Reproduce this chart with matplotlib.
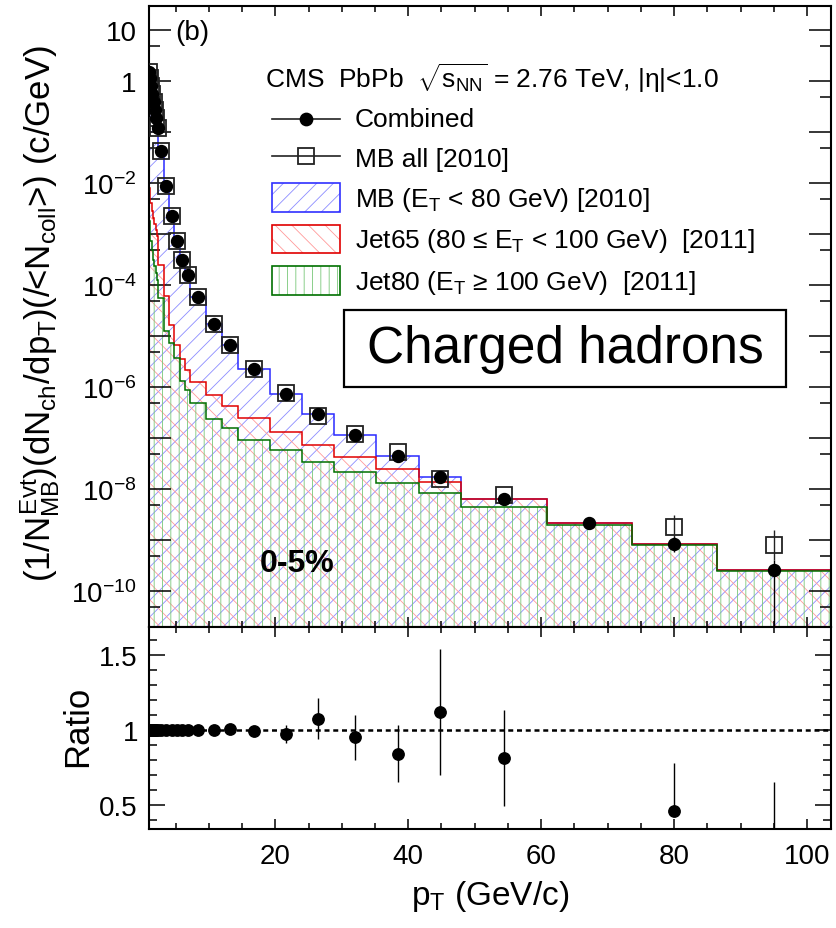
import numpy as np
import matplotlib
matplotlib.use('Agg')
import matplotlib.pyplot as plt
from matplotlib.ticker import FixedLocator, MultipleLocator, FuncFormatter, FixedFormatter, NullFormatter
from matplotlib.patches import Rectangle
from matplotlib.lines import Line2D

plt.rcParams['font.family'] = ['Liberation Sans', 'DejaVu Sans']
plt.rcParams['mathtext.fontset'] = 'custom'
plt.rcParams['mathtext.rm'] = 'Liberation Sans'
plt.rcParams['mathtext.it'] = 'Liberation Sans'
plt.rcParams['mathtext.bf'] = 'Liberation Sans:bold'
plt.rcParams['mathtext.sf'] = 'Liberation Sans'
plt.rcParams['hatch.linewidth'] = 0.6

# ---------------- data ----------------
bin_edges = [1.0, 1.1, 1.2, 1.4, 1.6, 1.8, 2.0, 2.2, 2.4, 3.2, 4.0, 4.8, 5.6, 6.4, 7.2,
             9.6, 12.0, 14.4, 19.2, 24.0, 28.8, 35.2, 41.6, 48.0, 60.8, 73.6, 86.4, 103.6]
pt = [1.05, 1.15, 1.3, 1.5, 1.7, 1.9, 2.1, 2.3, 2.8, 3.6, 4.4, 5.2, 6.0, 6.8, 8.4,
      10.8, 13.2, 16.8, 21.6, 26.4, 32.0, 38.4, 44.8, 54.4, 67.2, 80.0, 95.0]

combined = [1.50, 1.15, 0.80, 0.556, 0.388, 0.27, 0.188, 0.12, 0.0424, 9.0e-3, 2.33e-3,
            7.5e-4, 3.13e-4, 1.59e-4, 6.0e-5, 1.74e-5, 6.75e-6, 2.31e-6, 7.5e-7, 2.96e-7,
            1.17e-7, 4.58e-8, 1.77e-8, 6.4e-9, 2.22e-9, 8.35e-10, 2.58e-10]
combined_err_lo = [0]*25 + [2.45e-10, 2.50e-10]
combined_err_hi = [0]*25 + [3.5e-10, 1.5e-10]

mb_all = [1.50, 1.15, 0.80, 0.556, 0.388, 0.27, 0.188, 0.12, 0.0424, 9.0e-3, 2.33e-3,
          7.5e-4, 3.13e-4, 1.59e-4, 6.0e-5, 1.74e-5, 6.7e-6, 2.33e-6, 7.7e-7, 2.76e-7,
          1.23e-7, 5.45e-8, 1.58e-8, 7.85e-9, np.nan, 1.83e-9, 8.1e-10]
mb_all_err_lo = [0]*25 + [8e-10, 4e-10]
mb_all_err_hi = [0]*25 + [1.3e-9, 7.7e-10]

# stacked contributions (cumulative levels): total = combined
jet65_level = [8.0e-3, 5.8e-3, 4.06e-3, 2.83e-3, 2.06e-3, 1.57e-3, 1.20e-3, 9.1e-4, 2.5e-4,
               6.1e-5, 1.67e-5, 6.75e-6, 3.54e-6, 2.18e-6, 1.29e-6, 7.06e-7, 4.24e-7,
               2.47e-7, 1.35e-7, 7.4e-8, 4.38e-8, 2.52e-8, 1.42e-8, 6.45e-9, 2.22e-9,
               8.35e-10, 2.58e-10]
jet80_level = [1.80e-3, 1.20e-3, 7.3e-4, 4.85e-4, 3.1e-4, 2.36e-4, 1.72e-4, 1.25e-4, 5.6e-5,
               1.25e-5, 7.3e-6, 3.7e-6, 1.31e-6, 8.7e-7, 4.85e-7, 2.36e-7, 1.57e-7, 9.3e-8,
               5.9e-8, 3.5e-8, 2.22e-8, 1.34e-8, 8.6e-9, 4.6e-9, 2.0e-9, 8.0e-10, 2.5e-10]

ratio_pt = [1.05, 1.15, 1.3, 1.5, 1.7, 1.9, 2.1, 2.3, 2.8, 3.6, 4.4, 5.2, 6.0, 6.8, 8.4,
            10.8, 13.2, 16.8, 21.6, 26.4, 32.0, 38.4, 44.8, 54.4, 80.0, 95.0]
ratio = [1.0]*14 + [1.0, 1.0, 1.008, 0.993, 0.973, 1.074, 0.95, 0.84, 1.12, 0.814, 0.456, 0.25]
ratio_err_lo = [0]*14 + [0.005, 0.008, 0.01, 0.02, 0.06, 0.135, 0.15, 0.19, 0.42, 0.32, 0.03, 0.30]
ratio_err_hi = [0]*14 + [0.005, 0.008, 0.01, 0.02, 0.06, 0.135, 0.15, 0.19, 0.42, 0.32, 0.32, 0.40]

legend_labels = ['Combined', 'MB all [2010]',
                 r'MB (E$_{\rm T}$ < 80 GeV) [2010]',
                 r'Jet65 (80 ≤ E$_{\rm T}$ < 100 GeV)  [2011]',
                 r'Jet80 (E$_{\rm T}$ ≥ 100 GeV)  [2011]']

# ---------------- figure ----------------
W, H = 836, 929
fig = plt.figure(figsize=(W/100, H/100), dpi=100)
L, R = 149/W, 831/W
ax = fig.add_axes([L, 1-628/H, R-L, 621/H])
axr = fig.add_axes([L, 1-830/H, R-L, 202/H])

ymin, ymax = 2e-11, 30
xmin, xmax = 1.0, 103.6

blue_h, red_h, green_h = '#8c8cff', '#ff9a9a', '#78c878'
ax.stairs(combined, bin_edges, baseline=ymin, fill=True, facecolor='none',
          edgecolor=blue_h, hatch='//', lw=0, zorder=1)
ax.stairs(jet65_level, bin_edges, baseline=ymin, fill=True, facecolor='none',
          edgecolor=red_h, hatch='\\\\', lw=0, zorder=1.1)
ax.stairs(jet80_level, bin_edges, baseline=ymin, fill=True, facecolor='none',
          edgecolor=green_h, hatch='||', lw=0, zorder=1.2)
ax.stairs(combined, bin_edges, baseline=None, color='#2a2aff', lw=1.1, zorder=2)
ax.stairs(jet65_level, bin_edges, baseline=None, color='#e00000', lw=1.1, zorder=2.1)
ax.stairs(jet80_level, bin_edges, baseline=None, color='#007000', lw=1.1, zorder=2.2)

ax.errorbar(pt, mb_all, yerr=[mb_all_err_lo, mb_all_err_hi], fmt='s', ms=11.5,
            mfc='none', mec='#222222', mew=1.3, ecolor='#222222', elinewidth=1.0,
            capsize=0, zorder=4)
ax.errorbar(pt, combined, yerr=[combined_err_lo, combined_err_hi], fmt='o', ms=8.6,
            color='black', elinewidth=1.0, capsize=0, zorder=5)

ax.set_yscale('log')
ax.set_xlim(xmin, xmax)
ax.set_ylim(ymin, ymax)

def yfmt(v, pos):
    e = int(round(np.log10(v)))
    if e == 1:
        return '10'
    if e == 0:
        return '1'
    if e % 2 == 0:
        return r'$10^{%d}$' % e
    return ''

ax.yaxis.set_major_locator(FixedLocator([10.0**k for k in range(-11, 2)]))
ax.yaxis.set_minor_locator(FixedLocator([5*10.0**k for k in range(-12, 1)]))
ax.yaxis.set_major_formatter(FuncFormatter(yfmt))
ax.yaxis.set_minor_formatter(NullFormatter())
ax.xaxis.set_major_locator(MultipleLocator(20))
ax.xaxis.set_minor_locator(MultipleLocator(5))
ax.tick_params(axis='y', which='major', direction='in', length=15.8, width=1.1,
               left=True, right=True, labelsize=20, pad=9)
ax.tick_params(axis='y', which='minor', direction='in', length=8, width=1.1,
               left=True, right=True)
ax.tick_params(axis='x', which='major', direction='in', length=7, width=1.1,
               top=True, bottom=True, labelbottom=False)
ax.tick_params(axis='x', which='minor', direction='in', length=4.3, width=1.1,
               top=True, bottom=True)

# ---------------- ratio panel ----------------
axr.axhline(1.0, color='black', lw=1.8, ls=(0, (2, 1.5)), zorder=1)
axr.errorbar(ratio_pt, ratio, yerr=[ratio_err_lo, ratio_err_hi], fmt='o', ms=8.2,
             color='black', elinewidth=1.0, capsize=0, zorder=3, clip_on=True)
axr.set_xlim(xmin, xmax)
axr.set_ylim(0.338, 1.685)
axr.yaxis.set_major_locator(FixedLocator([0.5, 1.0, 1.5]))
axr.yaxis.set_major_formatter(FixedFormatter(['0.5', '1', '1.5']))
axr.yaxis.set_minor_locator(MultipleLocator(0.1))
axr.xaxis.set_major_locator(MultipleLocator(20))
axr.xaxis.set_minor_locator(MultipleLocator(5))
axr.tick_params(axis='y', which='major', direction='in', length=11.5, width=1.1,
                left=True, right=True, labelsize=20, pad=8)
axr.tick_params(axis='y', which='minor', direction='in', length=5.8, width=1.1,
                left=True, right=True)
axr.tick_params(axis='x', which='major', direction='in', length=7, width=1.1,
                top=True, bottom=True, labelsize=20, pad=10)
axr.tick_params(axis='x', which='minor', direction='in', length=4.3, width=1.1,
                top=True, bottom=True)

for a in (ax, axr):
    for s in a.spines.values():
        s.set_linewidth(1.5)

# ---------------- labels ----------------
fig.text(40/W, 1-314/H,
         r'$(1/N^{\rm Evt}_{\rm MB})(dN_{\rm ch}/dp_{\rm T})$(/<N$_{\rm coll}$>) (c/GeV)',
         rotation=90, ha='center', va='center', fontsize=25)
fig.text(78/W, 1-726/H, 'Ratio', rotation=90, ha='center', va='center', fontsize=25)
fig.text(490/W, 1-897/H, r'p$_{\rm T}$ (GeV/c)', ha='center', va='center', fontsize=24)

def ax_xy(px, py):
    return ((px-149)/682, (628-py)/621)

ax.text(*ax_xy(175, 33), '(b)', ha='left', va='center', fontsize=20, transform=ax.transAxes)
ax.text(*ax_xy(260, 564), '0-5%', ha='left', va='center', fontsize=23, fontweight='bold',
        transform=ax.transAxes)

bx0, by0 = ax_xy(344, 388)
bx1, by1 = ax_xy(786, 311)
ax.add_patch(Rectangle((bx0, by0), bx1-bx0, by1-by0, transform=ax.transAxes,
                       facecolor='white', edgecolor='black', lw=1.6, zorder=6))
ax.text((bx0+bx1)/2, (by0+by1)/2, 'Charged hadrons', ha='center', va='center',
        fontsize=37, transform=ax.transAxes, zorder=7)

# legend (manual)
ax.text(*ax_xy(265, 88), r'CMS  PbPb  $\sqrt{s_{\rm NN}}$ = 2.76 TeV, |η|<1.0',
        ha='left', va='baseline', fontsize=19, transform=ax.transAxes, zorder=7)
lx0, lx1, lxm, tx = 272, 340, 306, 355
for py, mk, fc in [(120, 'o', 'black'), (157, 's', 'none')]:
    (a0, yy) = ax_xy(lx0, py)
    (a1, _) = ax_xy(lx1, py)
    (am, _) = ax_xy(lxm, py)
    ax.add_line(Line2D([a0, a1], [yy, yy], color='#222222', lw=1.2, transform=ax.transAxes, zorder=7))
    ax.add_line(Line2D([am], [yy], marker=mk, ms=8.6 if mk == 'o' else 11.5, mfc=fc,
                       mec='black' if mk == 'o' else '#222222', mew=1.3, transform=ax.transAxes, zorder=8))
ax.text(*ax_xy(tx, 127), legend_labels[0], ha='left', va='baseline', fontsize=19,
        transform=ax.transAxes, zorder=7)
ax.text(*ax_xy(tx, 167), legend_labels[1], ha='left', va='baseline', fontsize=19,
        transform=ax.transAxes, zorder=7)
boxes = [(184, 213, blue_h, '#3030ff', '//', legend_labels[2], 207),
         (226, 254, red_h, '#e00000', '\\\\', legend_labels[3], 248),
         (267, 296, green_h, '#007000', '||', legend_labels[4], 290)]
for top, bot, hc, ec, hh, lab, base in boxes:
    x0, y0 = ax_xy(lx0, bot)
    x1, y1 = ax_xy(lx1, top)
    ax.add_patch(Rectangle((x0, y0), x1-x0, y1-y0, transform=ax.transAxes,
                           facecolor='white', edgecolor=hc, hatch=hh, lw=0, zorder=7))
    ax.add_patch(Rectangle((x0, y0), x1-x0, y1-y0, transform=ax.transAxes,
                           facecolor='none', edgecolor=ec, lw=1.2, zorder=7.5))
    ax.text(*ax_xy(tx, base), lab, ha='left', va='baseline', fontsize=19,
            transform=ax.transAxes, zorder=7)

fig.savefig('out.png', dpi=100)
